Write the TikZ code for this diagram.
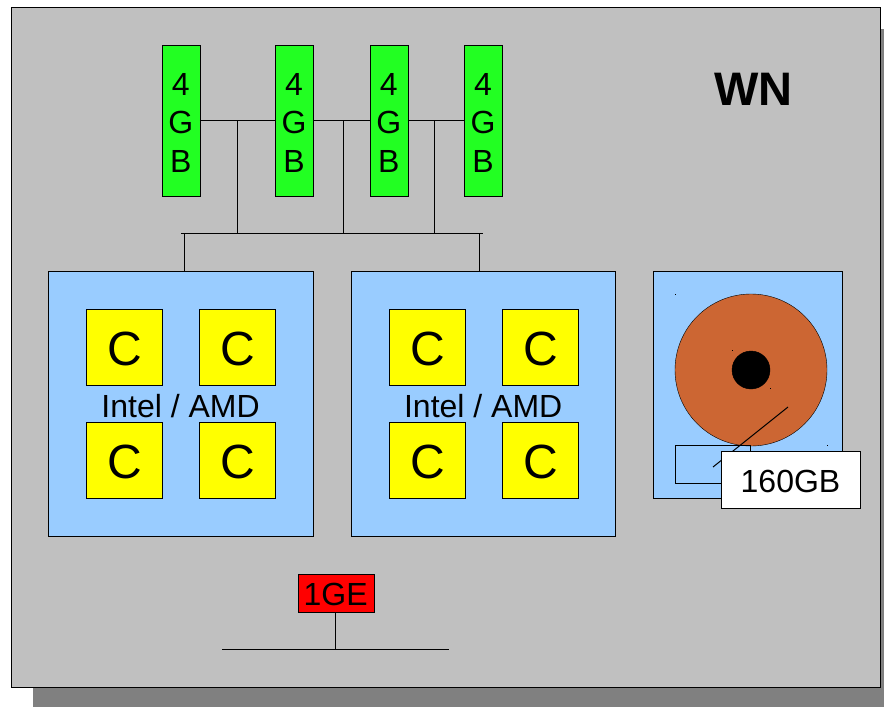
\documentclass[tikz,border=0pt]{standalone}
\usepackage{fontspec}
\setmainfont{Liberation Sans}
\usetikzlibrary{positioning,shapes.geometric}
\definecolor{nodegray}{HTML}{C0C0C0}
\definecolor{shadowgray}{HTML}{808080}
\definecolor{ramgreen}{HTML}{22FF22}
\definecolor{cpublue}{HTML}{99CCFF}
\definecolor{platter}{HTML}{CC6633}
\definecolor{coreyellow}{HTML}{FFFF00}
\definecolor{nicred}{HTML}{FF0000}

\begin{document}
\begin{tikzpicture}[
    x=1pt, y=-1pt,
    node distance=37pt and 37pt,
    every node/.style={inner sep=0pt, outer sep=0pt},
    ram/.style={draw, fill=ramgreen, align=center, minimum width=38pt, minimum height=151pt,
                font=\fontsize{32}{38.5}\selectfont},
    cpu/.style={draw, fill=cpublue, minimum width=264.5pt, minimum height=264.5pt},
    core/.style={draw, fill=coreyellow, minimum width=76pt, minimum height=76pt,
                 text height=36pt, text depth=0pt, font=\fontsize{48}{48}\selectfont,
                 execute at begin node=\hspace*{2pt}},
    label/.style={font=\fontsize{32}{32}\selectfont},
    line/.style={line width=1pt}
]
    \useasboundingbox (0,0) rectangle (884,707);
    \fill[shadowgray] (33,29) rectangle (884,707);
    \node[draw, fill=nodegray, minimum width=869pt, minimum height=680pt] (wn) at (445.3,346.8) {};
    \node[font=\bfseries\fontsize{47}{47}\selectfont] (title) at (753.5,89) {WN};

    % memory
    \node[ram] (ram1) at (180.8,120.5) {\rule{0pt}{26pt}4\\G\\B};
    \node[ram] (ram2) at (294,120.5) {\rule{0pt}{26pt}4\\G\\B};
    \node[ram] (ram3) at (388.7,120.5) {\rule{0pt}{26pt}4\\G\\B};
    \node[ram] (ram4) at (483,120.5) {\rule{0pt}{26pt}4\\G\\B};
    \coordinate (busl) at (181,233.5);
    \coordinate (busr) at (483,233.5);
    \coordinate (tap1) at (237.5,120.5);
    \coordinate (tap2) at (343.5,120.5);
    \coordinate (tap3) at (434,120.5);
    \coordinate (drop1) at (237.5,233.5);
    \coordinate (drop2) at (343.5,233.5);
    \coordinate (drop3) at (434,233.5);
    \coordinate (feed1) at (184.5,233.5);
    \coordinate (feed2) at (479.5,233.5);

    % processors
    \node[cpu] (cpu1) at (180.5,403.7) {};
    \node[cpu] (cpu2) at (483.2,403.7) {};
    \node[core] (c11) at (124,347) {C};
    \node[core, right=of c11] (c12) {C};
    \node[core, below=of c11] (c13) {C};
    \node[core, right=of c13] (c14) {C};
    \node[core] (c21) at (426.7,347) {C};
    \node[core, right=of c21] (c22) {C};
    \node[core, below=of c21] (c23) {C};
    \node[core, right=of c23] (c24) {C};
    \node[label] (intel1) at (180.6,406) {Intel / AMD};
    \node[label] (intel2) at (483.2,406) {Intel / AMD};

    % disk
    \node[draw, fill=cpublue, minimum width=189pt, minimum height=227pt] (disk) at (747.5,384.5) {};
    \node[draw, fill=platter, circle, minimum size=152pt] (plate) at (751,370) {};
    \node[draw, fill=black, circle, minimum size=38pt] (hub) at (751,370) {};
    \node[draw, minimum width=75pt, minimum height=38pt] (head) at (712.5,464) {};
    \coordinate (arm1) at (788,407);
    \coordinate (arm2) at (713,467);
    \draw[line] (arm1) -- (arm2);
    \node[label, draw, fill=white, minimum width=138.5pt, minimum height=57pt,
          text height=26pt, text depth=0pt] (size) at (790.5,479.5) {160GB};
    \fill (675,293.5) rectangle (676,294.5);
    \fill (732,350) rectangle (733,351);
    \fill (770,388) rectangle (771,389);
    \fill (826.5,445) rectangle (827.5,446);

    % network
    \node[label, draw, fill=nicred, minimum width=76pt, minimum height=38pt,
          text height=25pt, text depth=0pt] (nic) at (335.7,593) {1GE};
    \coordinate (netl) at (222,649.5);
    \coordinate (netr) at (449,649.5);
    \coordinate (nett) at (335.7,649.5);

    \draw[line] (ram1) -- (ram2);
    \draw[line] (ram2) -- (ram3);
    \draw[line] (ram3) -- (ram4);
    \draw[line] (tap1) -- (drop1);
    \draw[line] (tap2) -- (drop2);
    \draw[line] (tap3) -- (drop3);
    \draw[line] (busl) -- (busr);
    \draw[line] (feed1) -- (feed1 |- cpu1.north);
    \draw[line] (feed2) -- (feed2 |- cpu2.north);
    \draw[line] (nic) -- (nett);
    \draw[line] (netl) -- (netr);
\end{tikzpicture}
\end{document}
